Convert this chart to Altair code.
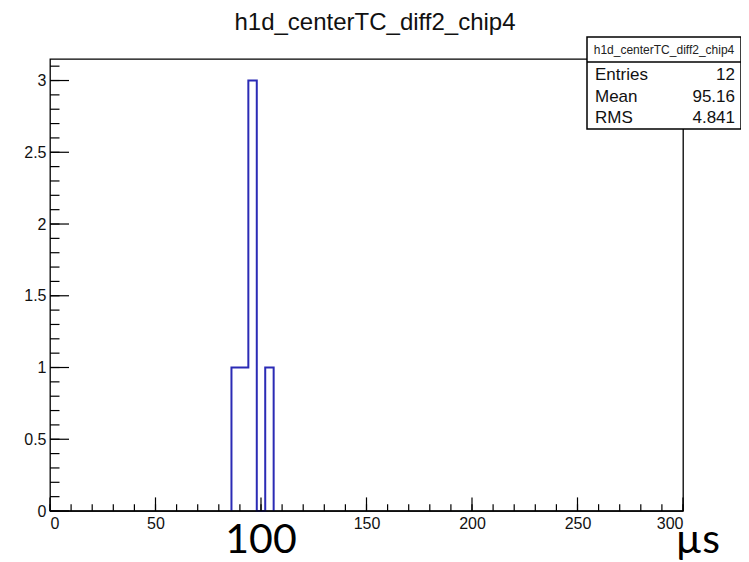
import altair as alt
import pandas as pd

# ---- data ----
hist_title = "h1d_centerTC_diff2_chip4"
bin_width = 4
x_min, x_max = 0, 300
nz_bin_low = [86, 90, 94, 98, 102]     # lower edges of the drawn bins
nz_counts = [1, 1, 3, 0, 1]            # their contents
stat_names = ["Entries", "Mean", "RMS"]
stat_values = ["12", "95.16", "4.841"]
x_label_values = [0, 50, 150, 200, 250, 300]   # the 100 label is hidden under the big "100"
y_label_values = [0, 0.5, 1, 1.5, 2, 2.5, 3]
y_max = 3.15
annot_texts = ["100", "µs"]
annot_x = [100, 307]

# ---- build tables ----
edges = nz_bin_low + [nz_bin_low[-1] + bin_width]
hist_df = pd.DataFrame({"x": edges, "y": nz_counts + [0]})
hist_df = pd.concat([pd.DataFrame({"x": [nz_bin_low[0]], "y": [0]}), hist_df], ignore_index=True)
hist_df["i"] = range(len(hist_df))

x_major = pd.DataFrame({"v": list(range(0, 301, 50))})
x_minor = pd.DataFrame({"v": list(range(0, 301, 10))})
y_major = pd.DataFrame({"v": [i * 0.5 for i in range(7)]})
y_minor = pd.DataFrame({"v": [round(i * 0.1, 1) for i in range(32)]})

W, H = 633, 452
FONT = "Liberation Sans"

xs = alt.Scale(domain=[x_min, x_max], nice=False, zero=False)
ys = alt.Scale(domain=[0, y_max], nice=False)
xaxis = alt.Axis(values=x_label_values, ticks=False, domain=False, grid=False,
                 labelFont=FONT, labelFontSize=16, labelColor="#111",
                 labelPadding=4, title=None, format="~r")
yaxis = alt.Axis(values=y_label_values, ticks=False, domain=False, grid=False,
                 labelFont=FONT, labelFontSize=16, labelColor="#111",
                 labelPadding=4, title=None, format="~r")

hist = alt.Chart(hist_df).mark_line(interpolate="step-after", color="#2b2bb5",
                                    strokeWidth=2).encode(
    x=alt.X("x:Q", scale=xs, axis=xaxis),
    y=alt.Y("y:Q", scale=ys, axis=yaxis),
    order="i:Q",
)

one = pd.DataFrame({"a": [0]})
baseline = alt.Chart(one).mark_rule(color="black", strokeWidth=1.3).encode(
    x=alt.datum(x_min, scale=xs, axis=xaxis), x2=alt.datum(x_max),
    y=alt.datum(0, scale=ys, axis=yaxis))

xmaj = alt.Chart(x_major).mark_rule(color="black", strokeWidth=1.2).encode(
    x=alt.X("v:Q", scale=xs, axis=xaxis), y=alt.value(H), y2=alt.value(H - 13.6))
xmin = alt.Chart(x_minor).mark_rule(color="black", strokeWidth=1.2).encode(
    x=alt.X("v:Q", scale=xs, axis=xaxis), y=alt.value(H), y2=alt.value(H - 6.8))
ymaj = alt.Chart(y_major).mark_rule(color="black", strokeWidth=1.2).encode(
    y=alt.Y("v:Q", scale=ys, axis=yaxis), x=alt.value(0), x2=alt.value(19))
ymin = alt.Chart(y_minor).mark_rule(color="black", strokeWidth=1.2).encode(
    y=alt.Y("v:Q", scale=ys, axis=yaxis), x=alt.value(0), x2=alt.value(9.5))

# stats box
box = alt.Chart(one).mark_rect(fill="white", stroke="black", strokeWidth=1.5).encode(
    x=alt.value(537), x2=alt.value(691), y=alt.value(-22), y2=alt.value(70))
sep = alt.Chart(one).mark_rule(color="black", strokeWidth=1.3).encode(
    x=alt.value(537), x2=alt.value(691), y=alt.value(3))
box_title = alt.Chart(pd.DataFrame({"t": [hist_title]})).mark_text(
    font=FONT, fontSize=12, color="#222", align="center", baseline="middle").encode(
    text="t:N", x=alt.value(614), y=alt.value(-9))

row_y = [16, 38, 59]
stat_layers = []
for name, val, yy in zip(stat_names, stat_values, row_y):
    d = pd.DataFrame({"name": [name], "val": [val]})
    stat_layers.append(alt.Chart(d).mark_text(
        font=FONT, fontSize=17, color="#111", align="left", baseline="middle").encode(
        text="name:N", x=alt.value(545), y=alt.value(yy)))
    stat_layers.append(alt.Chart(d).mark_text(
        font=FONT, fontSize=17, color="#111", align="right", baseline="middle").encode(
        text="val:N", x=alt.value(685), y=alt.value(yy)))

title_t = alt.Chart(pd.DataFrame({"t": [hist_title]})).mark_text(
    font=FONT, fontSize=24, color="#111", align="center", baseline="alphabetic").encode(
    text="t:N", x=alt.value(325), y=alt.value(-29))

annot_df = pd.DataFrame({"t": annot_texts, "x": annot_x})
annot = alt.Chart(annot_df).mark_text(
    font="Lato", fontSize=41, color="black", align="center", baseline="alphabetic").encode(
    text="t:N", x=alt.X("x:Q", scale=xs, axis=xaxis), y=alt.value(H + 42))

chart = alt.layer(hist, baseline, xmaj, xmin, ymaj, ymin, box, sep, box_title,
                  *stat_layers, title_t, annot).properties(
    width=W, height=H,
    autosize=alt.AutoSizeParams(type="none"),
    padding={"left": 42, "top": 51, "right": 58, "bottom": 51},
).configure_view(stroke="black", strokeWidth=1.3)

chart.save("out.html", embed_options={"renderer": "svg", "actions": False})
